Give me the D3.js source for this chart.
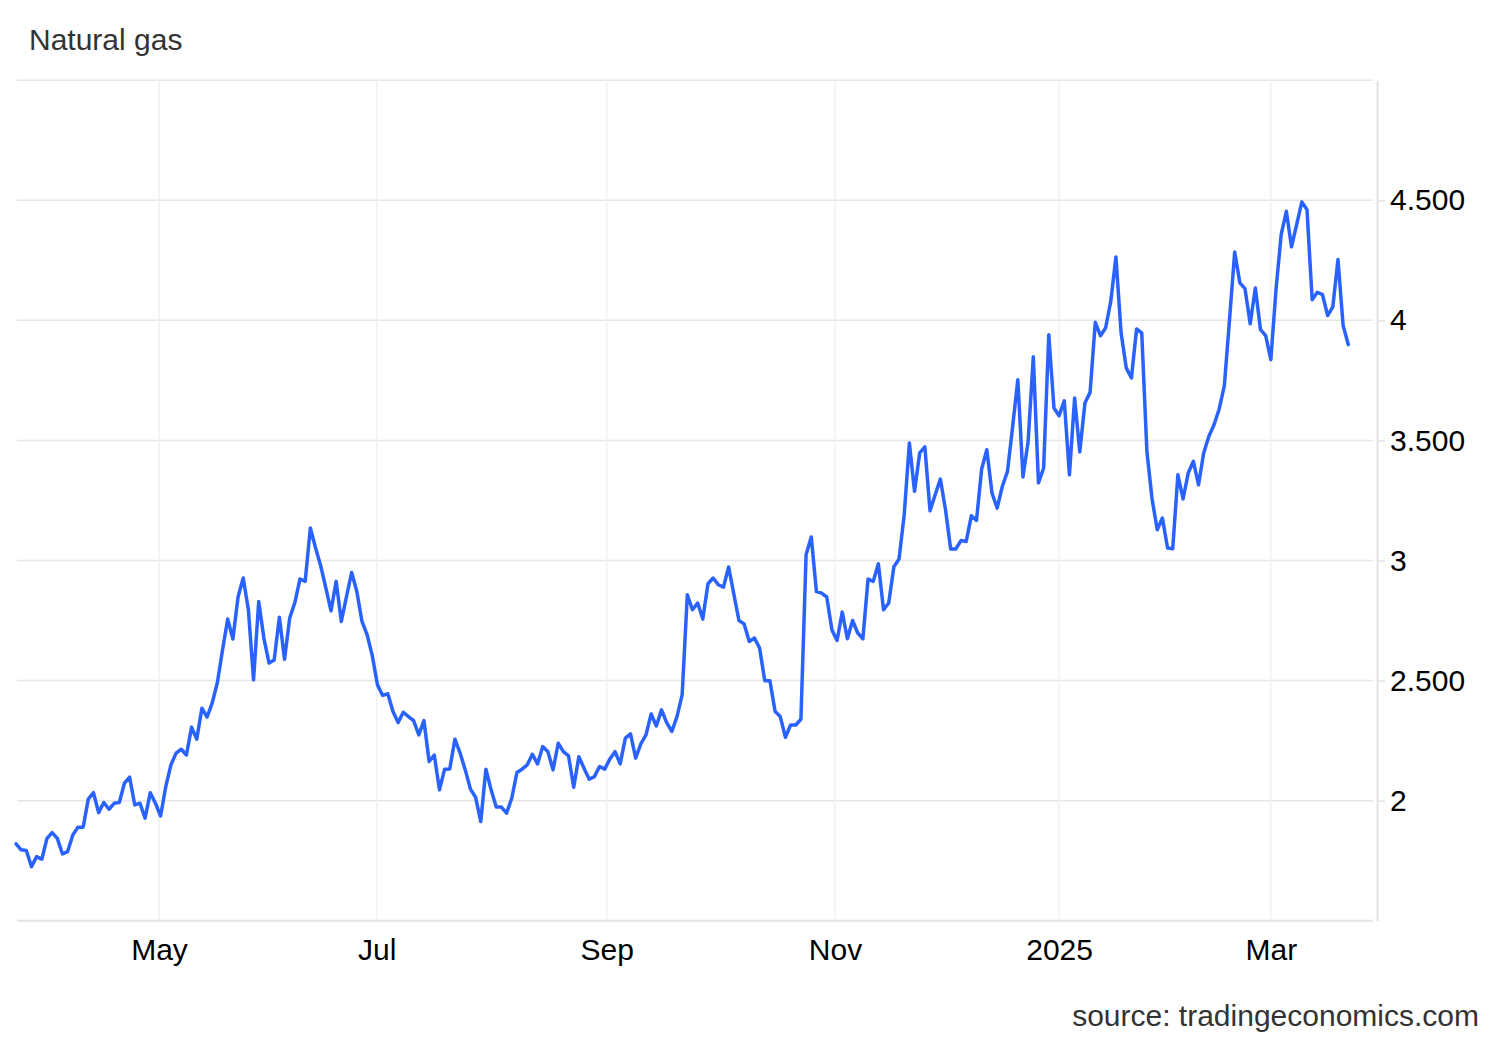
<!DOCTYPE html>
<html>
<head>
<meta charset="utf-8">
<script src="https://cdn.jsdelivr.net/npm/d3@7"></script>
<style>
html,body{margin:0;padding:0;background:#fff;}
svg{display:block;font-family:"Liberation Sans", Arial, Helvetica, sans-serif;}
</style>
</head>
<body>
<svg id="chart" width="1500" height="1040"></svg>
<script>
const titleText = "Natural gas";
const sourceText = "source: tradingeconomics.com";

// Daily closing prices (trading days)
const values = [
1.820,1.795,1.792,1.725,1.767,1.756,1.843,1.867,1.843,1.778,
1.788,1.857,1.889,1.889,2.006,2.033,1.950,1.992,1.964,1.989,
1.992,2.073,2.098,1.982,1.989,1.927,2.033,1.989,1.936,2.058,
2.149,2.198,2.214,2.190,2.306,2.256,2.385,2.348,2.407,2.492,
2.628,2.756,2.673,2.848,2.927,2.795,2.503,2.829,2.677,2.573,
2.586,2.764,2.589,2.760,2.825,2.923,2.913,3.135,3.053,2.978,
2.886,2.790,2.913,2.746,2.850,2.950,2.871,2.746,2.690,2.603,
2.482,2.438,2.445,2.371,2.325,2.368,2.350,2.333,2.274,2.333,
2.163,2.190,2.045,2.131,2.132,2.256,2.198,2.128,2.048,2.014,
1.913,2.131,2.045,1.973,1.973,1.948,2.010,2.117,2.131,2.149,
2.193,2.153,2.225,2.204,2.128,2.239,2.204,2.186,2.056,2.183,
2.135,2.089,2.100,2.142,2.131,2.173,2.204,2.153,2.260,2.278,
2.177,2.236,2.274,2.361,2.311,2.378,2.325,2.288,2.350,2.440,
2.857,2.795,2.823,2.756,2.903,2.927,2.899,2.889,2.973,2.861,
2.750,2.736,2.663,2.677,2.635,2.499,2.499,2.371,2.350,2.264,
2.315,2.315,2.339,3.024,3.098,2.871,2.864,2.848,2.711,2.667,
2.785,2.674,2.750,2.698,2.674,2.923,2.913,2.986,2.795,2.823,
2.974,3.006,3.190,3.489,3.288,3.448,3.473,3.207,3.274,3.339,
3.211,3.048,3.048,3.083,3.079,3.186,3.167,3.381,3.461,3.281,
3.218,3.308,3.371,3.558,3.753,3.348,3.496,3.848,3.323,3.385,
3.940,3.635,3.603,3.665,3.357,3.677,3.452,3.656,3.700,3.992,
3.936,3.968,4.079,4.264,3.948,3.802,3.760,3.964,3.948,3.454,
3.256,3.128,3.177,3.052,3.049,3.357,3.256,3.364,3.413,3.315,
3.448,3.517,3.565,3.631,3.728,4.003,4.285,4.156,4.132,3.986,
4.135,3.961,3.936,3.836,4.128,4.357,4.454,4.306,4.399,4.493,
4.461,4.086,4.117,4.107,4.020,4.056,4.253,3.978,3.899
];

// x-axis month labels and their positions (in trading-day index units)
const monthLabels = ["May", "Jul", "Sep", "Nov", "2025", "Mar"];
const monthIndex  = [27.7, 69.85, 114.4, 158.6, 202.0, 243.0];

// y-axis ticks
const yTickValues = [2, 2.5, 3, 3.5, 4, 4.5];
const yTickLabels = ["2", "2.500", "3", "3.500", "4", "4.500"];
const yGridValues = [2, 2.5, 3, 3.5, 4, 4.5, 5];
const yDomain = [1.5, 5];

const svg = d3.select("#chart");
const plot = {left: 17, right: 1377, top: 80.2, bottom: 920.7};
const lineStart = 16, lineEnd = 1348.3;
const fontSize = 30;

const x = d3.scaleLinear().domain([0, values.length - 1]).range([lineStart, lineEnd]);
const y = d3.scaleLinear().domain(yDomain).range([plot.bottom, plot.top]);

// title
svg.append("text")
  .attr("x", 29).attr("y", 50)
  .attr("font-size", fontSize).attr("fill", "#333")
  .text(titleText);

// horizontal gridlines
svg.append("g").selectAll("line").data(yGridValues).join("line")
  .attr("x1", plot.left).attr("x2", plot.right - 4)
  .attr("y1", d => y(d)).attr("y2", d => y(d))
  .attr("stroke", "#e6e6e6").attr("stroke-width", 1.5);

// vertical gridlines
svg.append("g").selectAll("line").data(monthIndex).join("line")
  .attr("x1", d => x(d)).attr("x2", d => x(d))
  .attr("y1", plot.top).attr("y2", plot.bottom)
  .attr("stroke", "#eef1f5").attr("stroke-width", 1.5);

// bottom border
svg.append("line")
  .attr("x1", plot.left).attr("x2", plot.right - 4)
  .attr("y1", plot.bottom).attr("y2", plot.bottom)
  .attr("stroke", "#e3e3e3").attr("stroke-width", 2);

// right axis
const yAxis = d3.axisRight(y)
  .tickValues(yTickValues)
  .tickFormat((d, i) => yTickLabels[i])
  .tickSize(8).tickSizeOuter(0).tickPadding(5);
const gy = svg.append("g").attr("transform", `translate(${plot.right},0)`).call(yAxis);
gy.select(".domain").attr("stroke", "#e3e3e3").attr("stroke-width", 2);
gy.selectAll(".tick line").attr("stroke", "#e3e3e3").attr("stroke-width", 1.5);
gy.selectAll(".tick text").attr("font-size", fontSize).attr("fill", "#000")
  .attr("font-family", "'Liberation Sans', Arial, sans-serif");

// bottom axis
const xAxis = d3.axisBottom(x)
  .tickValues(monthIndex)
  .tickFormat((d, i) => monthLabels[i])
  .tickSize(0).tickPadding(18);
const gx = svg.append("g").attr("transform", `translate(0,${plot.bottom})`).call(xAxis);
gx.select(".domain").remove();
gx.selectAll(".tick text").attr("font-size", fontSize).attr("fill", "#000")
  .attr("font-family", "'Liberation Sans', Arial, sans-serif");

// price line
const line = d3.line().x((d, i) => x(i)).y(d => y(d));
svg.append("path")
  .datum(values)
  .attr("d", line)
  .attr("fill", "none")
  .attr("stroke", "#2962ff")
  .attr("stroke-width", 3.5)
  .attr("stroke-linejoin", "round")
  .attr("stroke-linecap", "round");

// source
svg.append("text")
  .attr("x", 1479).attr("y", 1026)
  .attr("text-anchor", "end")
  .attr("font-size", fontSize).attr("fill", "#333")
  .text(sourceText);
</script>
</body>
</html>
